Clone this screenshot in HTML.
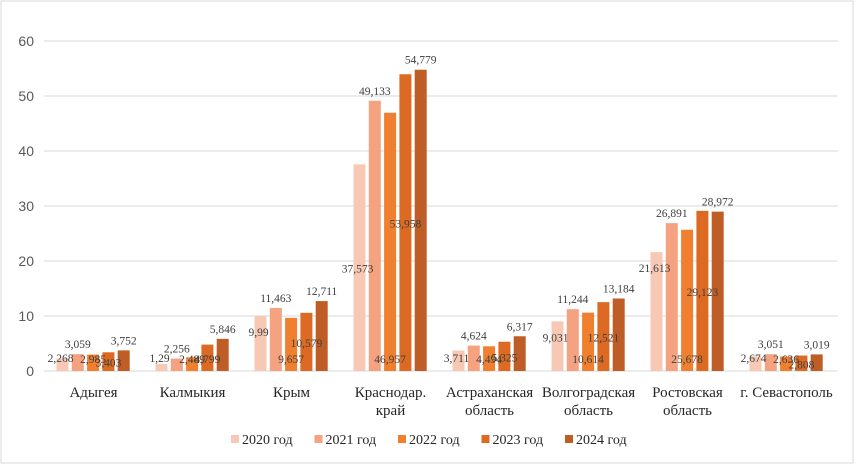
<!DOCTYPE html>
<html><head><meta charset="utf-8"><style>
body{margin:0;background:#fff;}
svg{display:block;font-family:"Liberation Serif",serif;}
</style></head><body>
<svg id="chart" width="858" height="468">
<rect x="1" y="1" width="852" height="462" fill="#fff" stroke="#d9d9d9"/>
<g id="grid"></g><g id="bars"></g><g id="labels"></g><g id="legend"></g>
</svg>
<script>
const categories=[["Адыгея"],["Калмыкия"],["Крым"],["Краснодар.","край"],["Астраханская","область"],["Волгоградская","область"],["Ростовская","область"],["г. Севастополь"]];
const s2020=[2.268,1.29,9.99,37.573,3.711,9.031,21.613,2.674];
const s2021=[3.059,2.256,11.463,49.133,4.624,11.244,26.891,3.051];
const s2022=[2.985,2.489,9.657,46.957,4.494,10.614,25.678,2.636];
const s2023=[3.403,4.799,10.579,53.958,5.325,12.521,29.123,2.808];
const s2024=[3.752,5.846,12.711,54.779,6.317,13.184,28.972,3.019];
const seriesNames=["2020 год","2021 год","2022 год","2023 год","2024 год"];
const yTicks=[0,10,20,30,40,50,60];
const series=[s2020,s2021,s2022,s2023,s2024];
const colors=["#f7c9b5","#f4a27f","#f0802f","#dc6a22","#be5e26"];
const NS="http://www.w3.org/2000/svg";
const x0=44,catW=99,y0=371,yMax=60,plotH=330;
const y=v=>y0-v/yMax*plotH;
const cx=i=>x0+catW*(i+0.5);
function mk(t,a,p){const e=document.createElementNS(NS,t);for(const k in a)e.setAttribute(k,a[k]);p.appendChild(e);return e;}
const fmt=v=>String(v).replace('.',',');
const grid=document.getElementById('grid');
yTicks.forEach(t=>{
 const l=mk('line',{x1:x0,x2:838,y1:y(t),y2:y(t),stroke:'#d9d9d9','stroke-width':1},grid);
 
 
 const tx=mk('text',{x:34,y:y(t)+5,'text-anchor':'end','font-size':14,fill:'#595959','font-family':'Liberation Sans, sans-serif'},grid);
 tx.textContent=t;
 
 
});
const bars=document.getElementById('bars'),labels=document.getElementById('labels');
categories.forEach((c,i)=>{
 series.forEach((s,k)=>{
  const bx=cx(i)-37+k*15.3;
  const r=mk('rect',{x:bx,y:y(s[i]),width:12,height:y0-y(s[i]),fill:colors[k]},bars);
  
  
  let ly,lx=bx+6;
  if(k===2) ly=y0-8;
  else if(k===3) ly=(y(s[i])+y0)/2+5;
  else if(k===0){ ly=s[i]>30?y(s[i])+108:Math.min(y(s[i])+20,y0-9); lx=bx+4; }
  else ly=y(s[i])-6;
  const t=mk('text',{x:lx,y:ly,'text-anchor':'middle','font-size':11.5,fill:'#404040'},labels);
  t.textContent=fmt(s[i]);
  
  
 });
 c.forEach((ln,j)=>{
  const t=mk('text',{x:cx(i),y:397+j*18,'text-anchor':'middle','font-size':15,fill:'#262626'},labels);
  t.textContent=ln;
  
  
 });
});
const lg=document.getElementById('legend');
seriesNames.forEach((n,k)=>{
 const lx=231+k*83.5;
 const r=mk('rect',{x:lx,y:435,width:8,height:8,fill:colors[k]},lg);
 
 
 const t=mk('text',{x:lx+11,y:444,'font-size':14,fill:'#262626'},lg);
 t.textContent=n;
 
 
});
</script>
</body></html>
